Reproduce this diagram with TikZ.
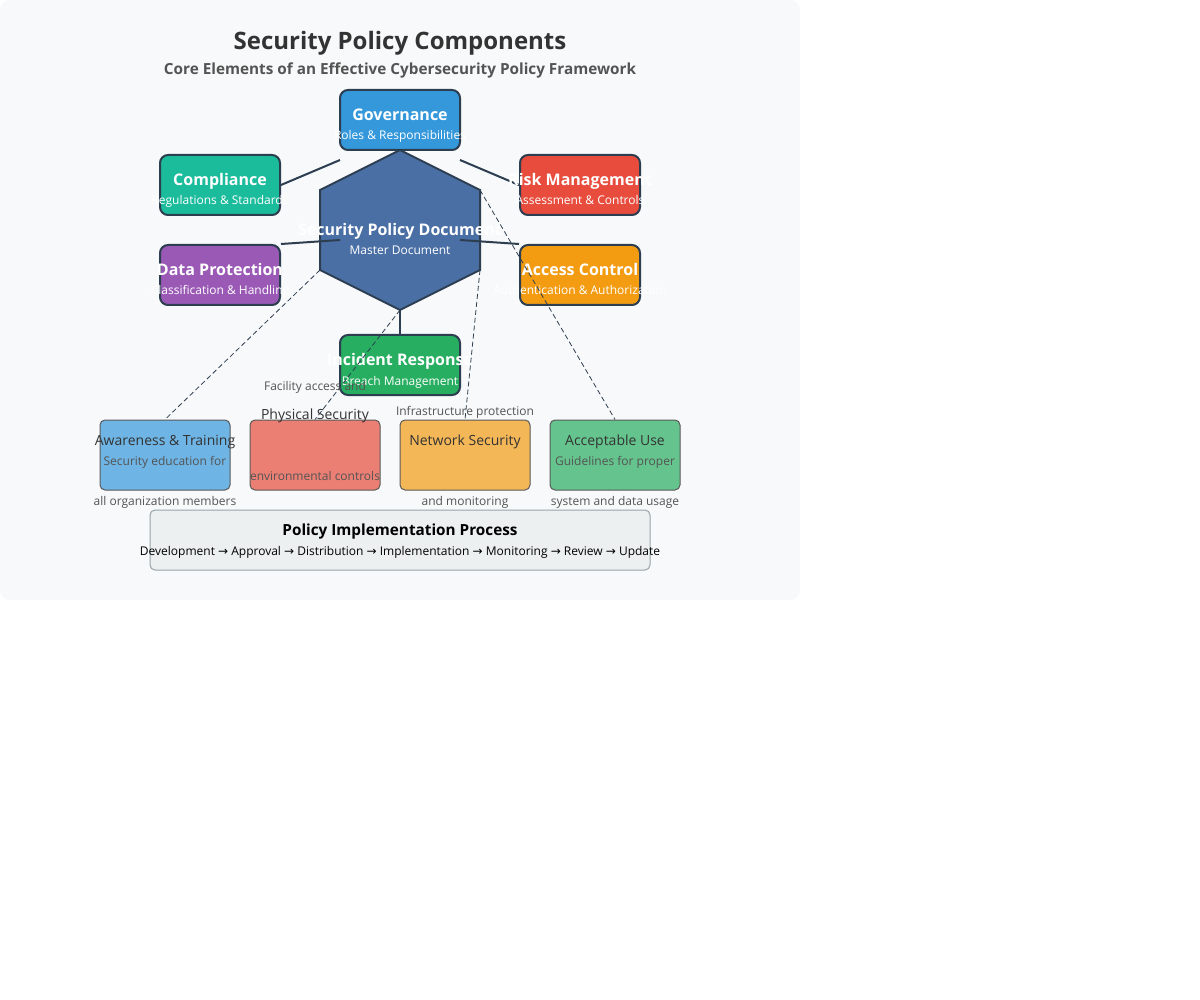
\documentclass[tikz,border=0pt]{standalone}
\usepackage{fontspec}
\setmainfont{Open Sans}
\newfontfamily\arrowfont{DejaVu Sans}
\usetikzlibrary{positioning}
\definecolor{bgpanel}{HTML}{F8F9FA}
\definecolor{darkline}{HTML}{2C3E50}
\definecolor{govblue}{HTML}{3498DB}
\definecolor{compgreen}{HTML}{1ABC9C}
\definecolor{riskred}{HTML}{E74C3C}
\definecolor{dppurple}{HTML}{9B59B6}
\definecolor{acorange}{HTML}{F39C12}
\definecolor{irgreen}{HTML}{27AE60}
\definecolor{hexblue}{HTML}{4A6FA5}
\definecolor{procgray}{HTML}{ECF0F1}
\definecolor{procline}{HTML}{95A5A6}
\newcommand{\steparr}{{\arrowfont\fontsize{12}{14}\selectfont →}}
\begin{document}
\begin{tikzpicture}[x=1pt, y=-1pt,
            mainbox/.style={rectangle, draw=darkline, line width=2pt, rounded corners=8pt, minimum width=120pt, minimum height=60pt, inner sep=0pt},
            areabox/.style={rectangle, draw=black!65, line width=1pt, rounded corners=5pt, fill opacity=0.7, minimum width=130pt, minimum height=70pt, inner sep=0pt},
            ttl/.style={anchor=base, inner sep=0pt, text=white, font=\fontsize{16}{19}\selectfont\bfseries},
            sub/.style={anchor=base, inner sep=0pt, text=white, font=\fontsize{12}{14}\selectfont},
            lbl/.style={anchor=base, inner sep=0pt, text=black!80, font=\fontsize{14}{17}\selectfont},
            desc/.style={anchor=base, inner sep=0pt, text=black!67, font=\fontsize{12}{14}\selectfont},
            link/.style={draw=darkline, line width=2pt},
            dashlink/.style={draw=darkline, line width=0.8pt, dash pattern=on 5pt off 3pt}
            ]
            \useasboundingbox (0,0) rectangle (1200,1000);
            \fill[bgpanel, rounded corners=10pt] (0,0) rectangle (800,600);

            \node[anchor=base, inner sep=0pt, text=black!80, font=\fontsize{24}{29}\selectfont\bfseries] (title) at (400,50) {Security Policy Components};
            \node[anchor=base, inner sep=0pt, text=black!67, font=\fontsize{15.3}{18}\selectfont\bfseries] (subtitle) at (400,75) {Core Elements of an Effective Cybersecurity Policy Framework};

            \node[mainbox, fill=govblue] (gov) at (400,120) {};
            \node[mainbox, fill=compgreen] (comp) at (220,185) {};
            \node[mainbox, fill=riskred] (risk) at (580,185) {};
            \node[mainbox, fill=dppurple] (dp) at (220,275) {};
            \node[mainbox, fill=acorange] (ac) at (580,275) {};
            \node[mainbox, fill=irgreen] (ir) at (400,365) {};

            \coordinate (hexT) at (400,150);
            \coordinate (hexTR) at (480,190);
            \coordinate (hexBR) at (480,270);
            \coordinate (hexB) at (400,310);
            \coordinate (hexBL) at (320,270);
            \coordinate (hexTL) at (320,190);
            \coordinate (hexUL) at (340,160);
            \coordinate (hexUR) at (460,160);
            \coordinate (hexML) at (340,240);
            \coordinate (hexMR) at (460,240);
            \fill[hexblue, draw=darkline, line width=2pt] (hexT) -- (hexTR) -- (hexBR) -- (hexB) -- (hexBL) -- (hexTL) -- cycle;

            \draw[link] (hexUL) -- (comp.east);
            \draw[link] (hexUR) -- (risk.west);
            \draw[link] (hexML) -- (dp.north east);
            \draw[link] (hexMR) -- (ac.north west);
            \draw[link] (hexB) -- (ir.north);

            \node[ttl] (govt) at (400,121) {Governance};
            \node[sub] (govs) at (400,140) {Roles \& Responsibilities};
            \node[ttl] (compt) at (220,186) {Compliance};
            \node[sub] (comps) at (220,205) {Regulations \& Standards};
            \node[ttl] (riskt) at (580,186) {Risk Management};
            \node[sub] (risks) at (580,205) {Assessment \& Controls};
            \node[ttl] (dpt) at (220,276) {Data Protection};
            \node[sub] (dps) at (220,295) {Classification \& Handling};
            \node[ttl] (act) at (580,276) {Access Control};
            \node[sub] (acs) at (580,295) {Authentication \& Authorization};
            \node[ttl] (irt) at (400,366) {Incident Response};
            \node[sub] (irs) at (400,385) {Breach Management};
            \node[ttl] (hext) at (400,236) {Security Policy Document};
            \node[sub] (hexs) at (400,255) {Master Document};

            \node[areabox, fill=govblue] (aw) at (165,455) {};
            \node[areabox, fill=riskred] (phys) at (315,455) {};
            \node[areabox, fill=acorange] (net) at (465,455) {};
            \node[areabox, fill=irgreen] (use) at (615,455) {};

            \draw[dashlink] (hexBL) -- (aw.north);
            \draw[dashlink] (hexB) -- (phys.north);
            \draw[dashlink] (hexBR) -- (net.north);
            \draw[dashlink] (hexTR) -- (use.north);

            \node[lbl] (awt) at (165,445) {Awareness \& Training};
            \node[desc] (awd1) at (165,465) {Security education for};
            \node[desc] (awd2) at (165,505) {all organization members};
            \node[desc] (physd1) at (315,390) {Facility access and};
            \node[lbl] (physt) at (315,420) {Physical Security};
            \node[desc] (physd2) at (315,480) {environmental controls};
            \node[desc] (netd1) at (465,415) {Infrastructure protection};
            \node[lbl] (nett) at (465,445) {Network Security};
            \node[desc] (netd2) at (465,505) {and monitoring};
            \node[lbl] (uset) at (615,445) {Acceptable Use};
            \node[desc] (used1) at (615,465) {Guidelines for proper};
            \node[desc] (used2) at (615,505) {system and data usage};

            \node[rectangle, draw=procline, line width=1pt, fill=procgray, rounded corners=5pt, minimum width=500pt, minimum height=60pt, inner sep=0pt] (proc) at (400,540) {};
            \node[anchor=base, inner sep=0pt, text=black, font=\fontsize{15.3}{18}\selectfont\bfseries] (proct) at (400,535) {Policy Implementation Process};
            \node[anchor=base, inner sep=0pt, text=black, font=\fontsize{12}{14}\selectfont] (procs) at (400,555) {Development \steparr{} Approval \steparr{} Distribution \steparr{} Implementation \steparr{} Monitoring \steparr{} Review \steparr{} Update};

            \end{tikzpicture}
\end{document}
